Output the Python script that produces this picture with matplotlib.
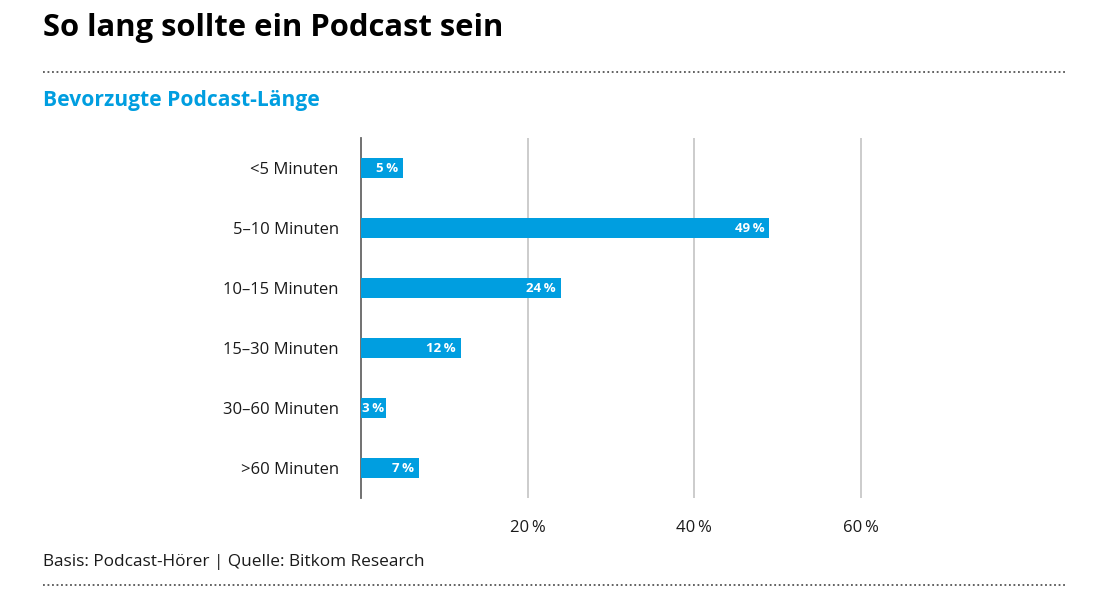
import matplotlib.pyplot as plt
from matplotlib.lines import Line2D

# Daten
kategorien = ['<5 Minuten', '5–10 Minuten', '10–15 Minuten', '15–30 Minuten', '30–60 Minuten', '>60 Minuten']
werte = [5, 49, 24, 12, 3, 7]
ticks = [20, 40, 60]
tick_labels = ['20\u2009%', '40\u2009%', '60\u2009%']

blau = '#009ee0'
plt.rcParams['font.family'] = ['Open Sans', 'DejaVu Sans']

fig = plt.figure(figsize=(11.05, 5.95), dpi=100)
ax = fig.add_axes([361/1105, 1 - 498/595, 666.7/1105, 360/595])

y = list(range(len(kategorien)))
ax.barh(y, werte, height=0.34, color=blau, zorder=3)
for yi, w in zip(y, werte):
    # kleine Balken: Beschriftung links am Balkenanfang
    if w < 4:
        ax.text(0.15, yi, f'{w}\u2009%', ha='left', va='center', color='white',
                fontsize=9.5, fontweight='bold', zorder=4)
    else:
        ax.text(w - 0.6, yi, f'{w}\u2009%', ha='right', va='center', color='white',
                fontsize=9.5, fontweight='bold', zorder=4)

ax.set_xlim(0, 80)
ax.set_ylim(len(kategorien) - 0.5, -0.5)
ax.set_yticks(y)
ax.set_yticklabels(kategorien, fontsize=12, color='#1a1a1a')
ax.set_xticks(ticks)
ax.set_xticklabels(tick_labels, fontsize=12, color='#1a1a1a')
ax.tick_params(axis='both', length=0)
ax.tick_params(axis='y', pad=16)
ax.tick_params(axis='x', pad=16)
ax.grid(axis='x', color='#c8c8c8', linewidth=1.3, zorder=0)
for s in ['top', 'right', 'bottom']:
    ax.spines[s].set_visible(False)
ax.spines['left'].set_color('#666666')
ax.spines['left'].set_linewidth(1.3)

# Titel, Untertitel, Quelle
fig.text(43/1105, 1 - 28/595, 'So lang sollte ein Podcast sein', fontsize=22.3,
         fontweight='bold', color='black', va='center')
fig.text(43/1105, 1 - 100/595, 'Bevorzugte Podcast-Länge', fontsize=15.1,
         fontweight='bold', color=blau, va='center')
fig.text(43/1105, 1 - 562/595, 'Basis: Podcast-Hörer | Quelle: Bitkom Research',
         fontsize=12.4, color='#1a1a1a', va='center')

for yy in [72, 585]:
    fig.add_artist(Line2D([43/1105, 1065/1105], [1 - yy/595, 1 - yy/595],
                          transform=fig.transFigure, color='#555555',
                          linestyle=(0, (1, 1.5)), linewidth=1.3))

fig.savefig('out.png', dpi=100)
